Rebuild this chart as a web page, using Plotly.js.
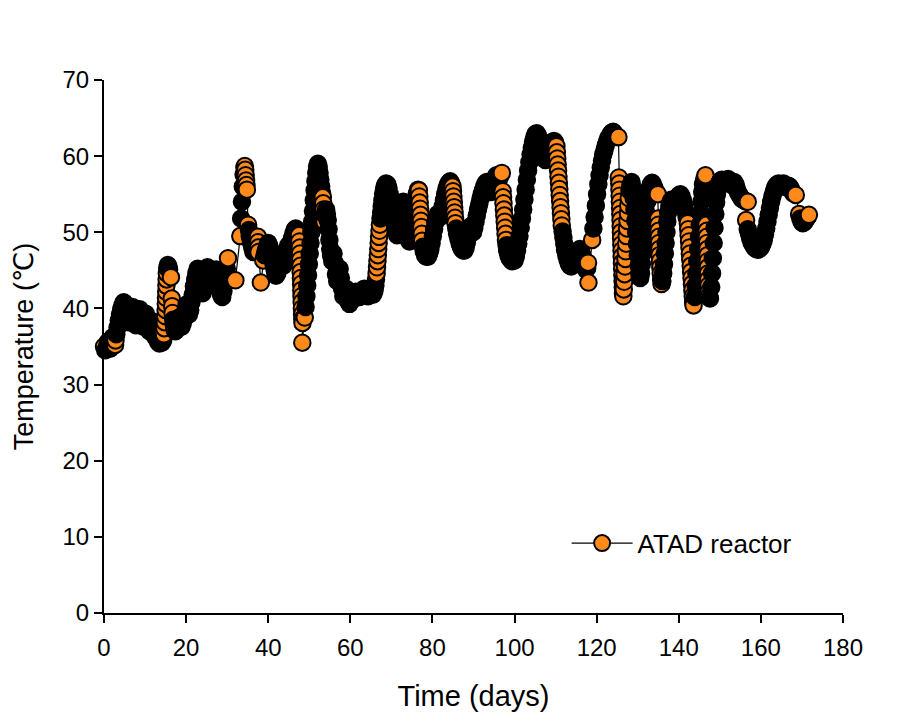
<!DOCTYPE html>
<html>
<head>
<meta charset="utf-8">
<script src="https://cdn.plot.ly/plotly-3.0.1.min.js"></script>
<style>
html,body{margin:0;padding:0;background:#fff;}
#chart{width:915px;height:718px;}
</style>
</head>
<body>
<div id="chart"></div>
<script>
// [day, temperature °C], grouped by period
const phase1 = [[0,35.0],[0.3,34.5],[0.6,34.8],[0.9,35.6],[1.2,35.0],[1.5,34.7],[1.8,35.4],[2.1,36.2],[2.4,35.6],[2.7,35.2],[2.8,35.8],[3.0,36.6],[3.3,37.5],[3.6,38.4],[3.9,39.2],[4.2,39.9],[4.5,40.4],[4.8,40.8],[5.1,40.6],[5.4,40.1],[5.7,39.0],[6.0,38.2],[6.3,38.6],[6.6,39.6],[6.9,40.2],[7.2,39.3],[7.5,38.3],[7.8,37.8],[8.1,38.6],[8.4,39.6],[8.7,39.9],[9.0,38.9],[9.3,37.9],[9.6,37.6],[9.9,38.5],[10.2,39.3],[10.5,38.5],[10.8,37.5],[11.1,37.0],[11.4,37.8],[11.7,38.3],[12.0,37.2],[12.3,36.4],[12.6,36.9],[12.9,36.0],[13.2,35.6],[13.5,35.4],[13.8,36.0],[14.1,35.5],[14.4,35.8],[14.6,36.6],[14.7,37.4],[14.8,38.2],[14.9,39.0],[15.0,39.8],[15.05,40.6],[15.1,41.4],[15.15,42.2],[15.2,43.0],[15.25,43.8],[15.3,44.6],[15.4,45.3],[15.55,45.7],[15.7,45.5],[15.85,45.1],[16.3,44.1],[16.5,41.3],[16.6,40.3],[16.7,39.4],[16.85,38.5],[17.0,37.8],[17.2,37.2]];

const phase2 = [[17.4,37.0],[17.7,37.3],[18.0,38.0],[18.3,38.8],[18.6,38.2],[18.9,37.6],[19.2,38.1],[19.5,38.9],[19.8,39.7],[20.1,40.5],[20.4,39.8],[20.7,39.2],[21.0,39.8],[21.3,40.8],[21.6,41.8],[21.9,42.9],[22.2,43.8],[22.5,44.6],[22.8,45.2],[23.1,44.5],[23.4,43.5],[23.7,42.5],[24.0,42.0],[24.3,42.8],[24.6,43.8],[24.9,44.8],[25.2,45.4],[25.5,45.0],[25.8,44.3],[26.1,43.5],[26.4,43.0],[26.7,43.7],[27.0,44.5],[27.3,45.1],[27.6,44.5],[27.9,43.6],[28.2,42.6],[28.5,41.8],[28.8,41.5],[29.1,42.3],[29.4,43.3],[29.7,44.4],[29.9,45.2],[30.2,46.6],[32.0,43.7]];

const phase3 = [[33.2,49.5],[33.4,51.8],[33.6,54.0],[33.8,56.0],[34.0,57.6],[34.2,58.5],[34.3,58.7],[34.4,58.2],[34.5,57.5],[34.6,56.8],[34.7,56.2],[34.8,55.6],[35.1,51.0],[35.3,50.3],[35.5,49.5],[35.8,48.7],[36.1,48.0],[36.4,47.4],[36.7,47.9],[37.0,48.6],[37.3,49.3],[37.5,49.4],[37.55,48.7],[37.6,48.0],[37.65,47.4],[38.2,43.4],[38.8,46.3],[39.1,47.0],[39.4,47.6],[39.7,48.2],[40.0,48.6],[40.3,48.2],[40.6,47.6],[40.9,47.0],[41.1,46.4],[41.3,45.8],[41.5,45.2],[41.7,44.7],[41.9,44.3],[42.2,44.6],[42.5,45.3],[42.8,46.0],[43.1,46.5],[43.4,46.0],[43.7,45.6],[44.0,46.3],[44.3,47.1],[44.6,47.8],[44.9,48.3],[45.2,47.9],[45.5,48.5],[45.8,49.2],[46.1,49.8],[46.4,50.3],[46.7,50.5],[47.0,50.3],[47.3,50.0]];

const phase4 = [[47.5,49.6],[47.6,48.8],[47.7,48.0],[47.75,47.2],[47.8,46.4],[47.85,45.6],[47.9,44.8],[47.95,44.0],[48.0,43.2],[48.05,42.4],[48.1,41.6],[48.15,40.8],[48.2,40.0],[48.25,39.2],[48.3,38.6],[48.35,38.1],[48.3,35.5],[48.9,38.8],[49.1,40.2],[49.3,41.6],[49.5,43.0],[49.7,44.4],[49.9,45.8],[50.1,47.2],[50.3,48.6],[50.5,50.0],[50.7,51.4],[50.9,52.8],[51.1,54.2],[51.3,55.5],[51.5,56.7],[51.7,57.8],[51.9,58.6],[52.1,59.0],[52.3,58.6],[52.5,57.8],[52.7,56.9],[52.9,56.0],[53.1,55.2],[53.3,54.6],[53.4,53.8],[53.5,53.0],[53.6,52.2],[53.7,51.4],[53.9,52.2],[54.1,53.0],[54.3,52.4],[54.5,51.6],[54.7,50.4],[54.9,49.0],[55.1,47.8],[55.3,47.0],[55.6,46.2],[55.9,47.2],[56.2,46.0],[56.5,44.5],[56.8,43.6],[57.1,44.4],[57.4,45.2],[57.7,44.0],[58.0,42.6],[58.3,41.6],[58.6,41.9],[58.9,42.6],[59.2,41.8],[59.5,40.9],[59.8,40.6],[60.1,41.0],[60.4,41.6],[60.7,41.2],[61.0,41.9],[61.3,42.2],[61.6,42.0],[61.9,41.7],[62.2,41.5],[62.5,41.7],[62.8,42.1],[63.1,42.4],[63.4,42.6],[63.7,42.2],[64.0,41.8],[64.3,41.6],[64.6,41.9],[64.9,42.2],[65.2,42.0],[65.5,41.8],[65.7,42.1]];

const phase5 = [[65.9,42.4],[66.1,43.0],[66.25,43.8],[66.4,44.6],[66.5,45.4],[66.6,46.2],[66.7,47.0],[66.8,47.8],[66.9,48.6],[67.0,49.4],[67.1,50.2],[67.2,51.0],[67.35,51.8],[67.5,52.6],[67.65,53.4],[67.8,54.2],[68.0,55.0],[68.2,55.6],[68.4,56.1],[68.7,56.4],[69.0,56.3],[69.3,55.8],[69.6,55.0],[69.9,54.0],[70.2,53.0],[70.5,52.0],[70.8,51.0],[71.1,50.2],[71.4,49.6],[71.7,50.3],[72.0,51.4],[72.3,52.6],[72.6,53.6],[72.9,54.0],[73.2,53.2],[73.5,52.0],[73.8,50.8],[74.1,49.6],[74.4,48.8],[74.7,49.5],[75.0,50.6],[75.3,51.8],[75.6,53.0],[75.9,54.2],[76.2,55.1],[76.5,55.6],[76.7,55.5],[76.8,54.7],[76.9,53.9],[77.0,53.1],[77.1,52.3],[77.2,51.5],[77.3,50.7],[77.4,49.8],[77.5,48.9],[77.7,48.1],[77.9,47.5],[78.2,47.0],[78.5,46.8],[78.9,46.8],[79.2,47.2],[79.5,47.8],[79.8,48.6],[80.1,49.5],[80.4,50.4],[80.7,51.3],[81.0,52.0],[81.3,52.4],[81.6,52.1],[81.9,52.0],[82.2,52.6],[82.5,53.4],[82.8,54.2],[83.1,55.0],[83.4,55.7],[83.7,56.2],[84.0,56.5],[84.3,56.7],[84.6,56.4],[84.9,56.0],[85.0,55.4],[85.1,54.7],[85.2,54.0],[85.3,53.3],[85.4,52.6],[85.5,51.9],[85.6,51.2],[85.8,50.5],[86.0,49.8],[86.3,49.2],[86.6,48.6],[86.9,48.1],[87.2,47.8],[87.5,47.6],[87.8,47.6],[88.1,48.0],[88.4,48.7],[88.7,49.5],[89.0,50.2],[89.3,50.8],[89.6,50.4],[89.9,50.0],[90.2,50.6],[90.5,51.4],[90.8,52.2],[91.1,53.0],[91.4,53.7],[91.7,54.4],[92.0,55.0],[92.3,55.5],[92.6,56.0],[92.9,56.4],[93.2,56.6],[93.5,56.3],[93.8,55.8],[94.1,55.3],[94.4,55.6],[94.7,56.2],[95.0,56.8],[95.3,57.2],[95.6,57.5],[95.9,57.3],[96.2,57.0],[96.5,57.4],[96.9,57.8],[97.1,55.4],[97.2,54.6],[97.3,53.8],[97.4,53.0],[97.5,52.2],[97.6,51.4],[97.7,50.6],[97.8,49.8],[97.9,49.0],[98.05,48.3],[98.2,47.6],[98.5,47.0],[98.8,46.6],[99.1,46.4],[99.4,46.2],[99.7,46.5],[100.0,46.3]];

const phase6 = [[100.3,46.8],[100.6,47.6],[100.9,48.5],[101.2,49.5],[101.5,50.6],[101.8,51.8],[102.1,53.0],[102.4,54.3],[102.7,55.6],[103.0,56.9],[103.3,58.1],[103.6,59.2],[103.9,60.2],[104.2,61.1],[104.5,61.9],[104.8,62.5],[105.1,62.9],[105.4,63.0],[105.7,62.7],[106.0,62.1],[106.3,61.4],[106.6,60.7],[106.9,60.1],[107.2,59.7],[107.5,59.5],[107.8,59.7],[108.1,60.2],[108.4,60.8],[108.7,61.3],[109.0,61.7],[109.3,61.9],[109.6,62.0],[109.9,61.8],[110.2,61.3],[110.3,60.5],[110.4,59.7],[110.5,58.9],[110.6,58.1],[110.7,57.3],[110.8,56.5],[110.9,55.7],[111.0,54.9],[111.1,54.1],[111.2,53.3],[111.3,52.5],[111.4,51.7],[111.5,50.9],[111.7,50.1],[111.9,49.3],[112.1,48.5],[112.3,47.7],[112.6,47.0],[112.9,46.4],[113.2,45.9],[113.5,45.6],[113.8,45.5],[114.1,45.8],[114.4,46.2],[114.7,46.6],[115.0,47.0],[115.3,47.3],[115.6,47.6],[115.9,47.8],[116.2,47.5],[116.5,47.0],[116.8,46.4],[117.1,45.7],[117.4,45.1],[117.7,45.3],[117.9,46.0],[118.0,43.4],[118.9,49.0],[119.2,50.5],[119.5,52.0],[119.8,53.5],[120.1,55.0],[120.4,56.3],[120.7,57.5],[121.0,58.5],[121.3,59.4],[121.6,60.2],[121.9,60.8],[122.2,61.4],[122.5,61.9],[122.8,62.3],[123.1,62.6],[123.4,62.9],[123.7,63.1],[124.0,63.2],[124.3,63.0],[124.6,62.7],[124.9,62.5],[125.3,62.5]];

const phase7 = [[125.4,57.2],[125.5,56.4],[125.55,55.6],[125.6,54.8],[125.65,54.0],[125.7,53.2],[125.75,52.4],[125.8,51.6],[125.85,50.8],[125.9,50.0],[125.95,49.2],[126.0,48.4],[126.05,47.6],[126.1,46.8],[126.15,46.0],[126.2,45.2],[126.25,44.4],[126.3,43.6],[126.35,42.8],[126.4,42.0],[126.5,41.6],[126.6,42.5],[126.7,43.5],[126.8,44.5],[126.9,45.5],[127.0,46.5],[127.1,47.5],[127.2,48.5],[127.3,49.5],[127.4,50.5],[127.5,51.5],[127.6,52.5],[127.7,53.5],[127.8,54.5],[128.0,55.5],[128.2,56.2],[128.5,56.6],[128.8,55.8],[129.0,54.5],[129.2,53.0],[129.4,51.5],[129.6,50.0],[129.8,48.5],[130.0,47.0],[130.2,45.6],[130.4,44.5],[130.6,44.0],[130.8,44.6],[131.0,45.8],[131.2,47.2],[131.4,48.6],[131.6,50.0],[131.8,51.4],[132.0,52.8],[132.3,54.0],[132.6,55.0],[132.9,55.8],[133.2,56.3],[133.5,56.5],[133.8,56.2],[134.1,55.8],[134.4,55.4],[134.9,55.0],[135.0,51.8],[135.05,51.0],[135.1,50.2],[135.15,49.4],[135.2,48.6],[135.25,47.8],[135.3,47.0],[135.4,46.2],[135.5,45.4],[135.6,44.6],[135.7,43.8],[135.8,43.2],[136.0,43.6],[136.2,44.6],[136.4,45.8],[136.6,47.2],[136.8,48.6],[137.0,50.0],[137.2,51.4],[137.4,52.6],[137.7,53.4],[138.0,54.0],[138.3,54.3],[138.6,54.0],[138.9,53.6],[139.2,53.8],[139.5,54.3],[139.8,54.6],[140.1,54.9],[140.4,55.0],[140.7,54.7],[141.0,54.2],[141.3,53.5],[141.6,52.8],[141.9,52.0],[142.2,51.2],[142.3,50.4],[142.4,49.6],[142.5,48.8],[142.6,48.0],[142.7,47.2],[142.8,46.4],[142.9,45.6],[143.0,44.8],[143.1,44.0],[143.2,43.2],[143.3,42.4],[143.4,41.6],[143.5,40.8],[143.6,40.4],[143.9,41.5],[144.1,43.0],[144.3,44.6],[144.5,46.2],[144.7,47.8],[144.9,49.4],[145.1,51.0],[145.3,52.5],[145.5,54.0],[145.7,55.3],[145.9,56.3],[146.2,57.0],[146.5,57.5],[146.75,51.0],[146.8,50.2],[146.85,49.4],[146.9,48.6],[146.95,47.8],[147.0,47.0],[147.05,46.2],[147.1,45.4],[147.15,44.6],[147.2,43.8],[147.25,43.0],[147.3,42.2],[147.4,41.6],[147.6,41.3]];

const phase8 = [[147.9,42.8],[148.1,44.6],[148.3,46.6],[148.5,48.6],[148.7,50.6],[148.9,52.4],[149.1,53.9],[149.3,55.0],[149.6,55.9],[149.9,56.5],[150.2,56.8],[150.5,56.9],[150.8,56.7],[151.1,56.4],[151.4,56.6],[151.7,56.9],[152.0,57.0],[152.3,56.8],[152.6,56.5],[152.9,56.2],[153.2,56.4],[153.5,56.6],[153.8,56.3],[154.1,55.8],[154.4,55.3],[154.7,55.0],[155.0,54.7],[155.3,54.4],[155.6,54.3],[155.9,54.2],[156.2,54.1],[156.5,54.0],[156.8,54.0],[156.4,51.6],[156.8,50.4],[157.1,49.8],[157.4,49.2],[157.7,48.7],[158.0,48.4],[158.3,48.1],[158.6,47.9],[158.9,47.8],[159.2,47.7],[159.5,47.8],[159.8,47.9],[160.1,48.1],[160.4,48.5],[160.7,49.0],[161.0,49.7],[161.3,50.5],[161.6,51.4],[161.9,52.3],[162.2,53.2],[162.5,54.0],[162.8,54.7],[163.1,55.3],[163.4,55.8],[163.7,56.1],[164.0,56.3],[164.3,56.4],[164.6,56.2],[164.9,56.0],[165.2,56.2],[165.5,56.4],[165.8,56.2],[166.1,56.0],[166.4,55.9],[166.7,56.1],[167.0,56.0],[167.3,55.7],[167.6,55.4],[167.9,55.1],[168.5,54.9],[169.3,52.4],[169.6,51.8],[169.9,51.4],[170.2,51.2],[170.5,51.3],[170.8,51.5],[171.1,51.8],[171.4,52.0],[171.7,52.3]];

const seriesName = 'ATAD reactor';
const xTickVals = [0, 20, 40, 60, 80, 100, 120, 140, 160, 180];
const yTickVals = [0, 10, 20, 30, 40, 50, 60, 70];
const xTitle = 'Time (days)';
const yTitle = 'Temperature (\u2103)';

const points = [].concat(phase1, phase2, phase3, phase4, phase5, phase6, phase7, phase8);
const xs = points.map(p => p[0]);
const ys = points.map(p => p[1]);

// Appearance of the original (very densely logged data): where the log is dense and slow,
// overlapping symbol outlines merge into a black band; symbols stay orange at fast
// transitions (closely spaced in time) or beside large jumps, and at both ends.
const ORANGE = '#FF8A1C';
const DARK = '#000000';
function isFast(i, j) {
  if (j < 0 || j >= xs.length) return false;
  return Math.abs(xs[j] - xs[i]) <= 0.1001 || Math.abs(ys[j] - ys[i]) >= 2.3;
}
const fills = xs.map((t, i) => (i === 0 || i === xs.length - 1 || isFast(i, i - 1) || isFast(i, i + 1)) ? ORANGE : DARK);

const trace = {
  type: 'scatter',
  mode: 'lines+markers',
  name: seriesName,
  x: xs,
  y: ys,
  cliponaxis: false,
  line: {color: '#000000', width: 1.2},
  marker: {symbol: 'circle', size: 16.5, color: fills, line: {color: '#000000', width: 2}}
};

const axisCommon = {
  showline: true, linecolor: '#000', linewidth: 2,
  ticks: 'outside', ticklen: 8, tickwidth: 2, tickcolor: '#000',
  showgrid: false, zeroline: false,
  tickfont: {size: 24, color: '#000'}
};

const layout = {
  width: 915, height: 718,
  margin: {l: 104, r: 72, t: 80, b: 105},
  paper_bgcolor: '#fff', plot_bgcolor: '#fff',
  font: {family: 'Liberation Sans, Arial, DejaVu Sans, sans-serif', size: 24, color: '#000'},
  showlegend: true,
  legend: {x: 0.626, y: 0.131, xanchor: 'left', yanchor: 'middle', bgcolor: 'rgba(0,0,0,0)',
           font: {size: 26, color: '#000'}, itemwidth: 61},
  xaxis: Object.assign({}, axisCommon, {range: [0, 180], tickvals: xTickVals, ticklabelstandoff: 4,
           title: {text: xTitle, font: {size: 29}, standoff: 26}}),
  yaxis: Object.assign({}, axisCommon, {range: [0, 70], tickvals: yTickVals,
           title: {text: yTitle, font: {size: 27}, standoff: 21}})
};

Plotly.newPlot('chart', [trace], layout, {displayModeBar: false, staticPlot: true});
</script>
</body>
</html>
